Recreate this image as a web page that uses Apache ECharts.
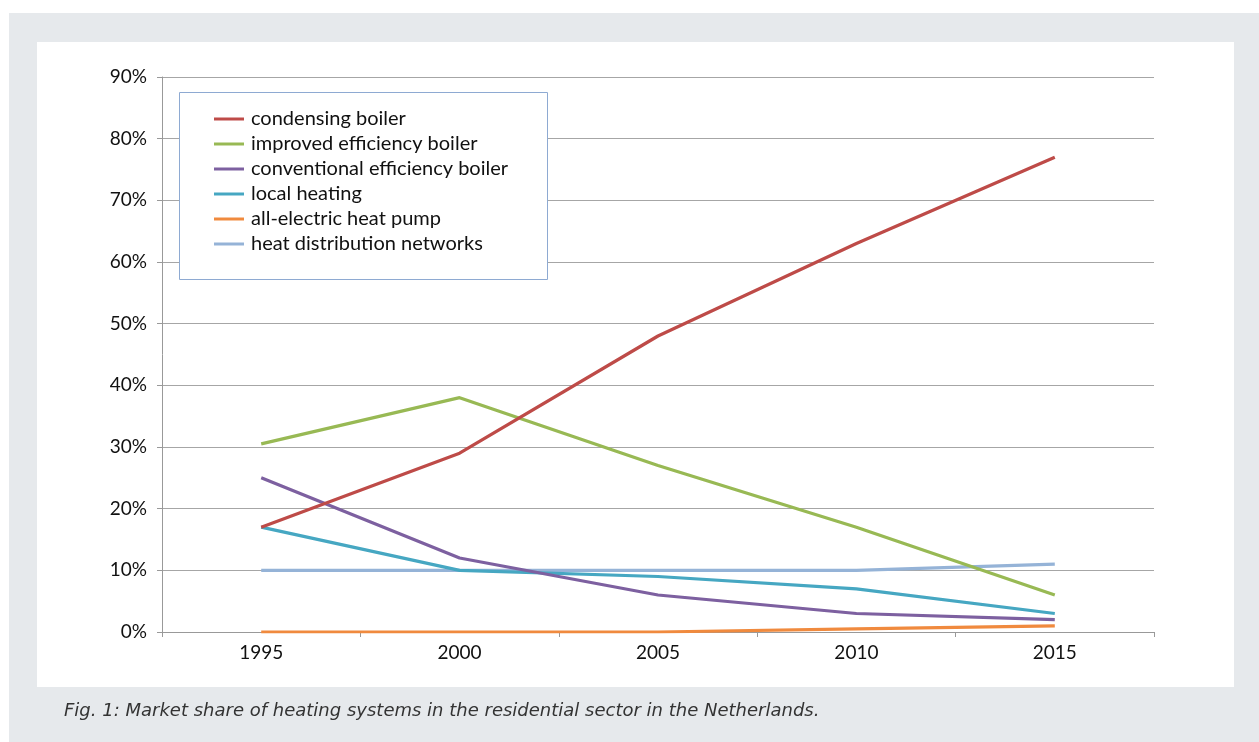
<!DOCTYPE html>
<html><head><meta charset="utf-8">
<script src="https://cdn.jsdelivr.net/npm/echarts@6/dist/echarts.min.js"></script>
<style>html,body{margin:0;padding:0;background:#fff;}#c{width:1259px;height:742px;}</style>
</head><body><div id="c"></div>
<script>
const years = ['1995','2000','2005','2010','2015'];
const seriesNames = ['condensing boiler','improved efficiency boiler','conventional efficiency boiler','local heating','all-electric heat pump','heat distribution networks'];
const condensing = [17, 29, 48, 63, 77];
const improved = [30.5, 38, 27, 17, 6];
const conventional = [25, 12, 6, 3, 2];
const localHeating = [17, 10, 9, 7, 3];
const heatPump = [0, 0, 0, 0.5, 1];
const heatNetworks = [10, 10, 10, 10, 11];
const yTicks = [0,10,20,30,40,50,60,70,80,90];
const caption = 'Fig. 1: Market share of heating systems in the residential sector in the Netherlands.';

const colors = ['#be4b48','#98b954','#7d60a0','#46a7c2','#f08a3e','#95b3d7'];
const allData = [condensing, improved, conventional, localHeating, heatPump, heatNetworks];

const chart = echarts.init(document.getElementById('c'), null, {renderer:'canvas'});
chart.setOption({
  backgroundColor:'#ffffff',
  animation:false,
  graphic:[
    {type:'rect', z:-10, shape:{x:9,y:13,width:1250,height:729}, style:{fill:'#e6e9ec'}},
    {type:'rect', z:-9, shape:{x:37,y:42,width:1197,height:645}, style:{fill:'#ffffff'}},
    {type:'rect', z:5, shape:{x:179.5,y:92.5,width:368,height:187}, style:{fill:'#ffffff',stroke:'#8eaad2',lineWidth:1}},
    {type:'text', z:10, left:64, top:702, style:{text:caption, fill:'#333', font:'italic 18px "DejaVu Sans"'}}
  ],
  grid:{left:162, top:77, width:992, height:555, containLabel:false},
  legend:{
    data:seriesNames, orient:'vertical', left:214, top:109, z:20, padding:0,
    itemWidth:30, itemHeight:3, itemGap:5, icon:'rect',
    textStyle:{fontFamily:'Lato', fontSize:20, color:'#111', lineHeight:20, padding:[0,0,0,2]},
    selectedMode:false
  },
  xAxis:{
    type:'category', data:years, boundaryGap:true,
    axisLine:{lineStyle:{color:'#999',width:1}},
    axisTick:{show:true, length:5, lineStyle:{color:'#999'}},
    axisLabel:{fontFamily:'Lato', fontSize:19, color:'#111', margin:11},
    splitLine:{show:false}
  },
  yAxis:{
    type:'value', min:0, max:90, interval:10,
    axisLine:{show:true, lineStyle:{color:'#999',width:1}},
    axisTick:{show:true, length:5, lineStyle:{color:'#999'}},
    axisLabel:{fontFamily:'Lato', fontSize:19, color:'#111', margin:15, formatter:v=>v+'%'},
    splitLine:{lineStyle:{color:'#a6a6a6',width:1}}
  },
  series: seriesNames.map((n,i)=>({
    name:n, type:'line', data:allData[i], symbol:'none', showSymbol:false,
    lineStyle:{color:colors[i], width:3.2}, itemStyle:{color:colors[i]}, z:3+(5-i)
  }))
});
</script></body></html>
